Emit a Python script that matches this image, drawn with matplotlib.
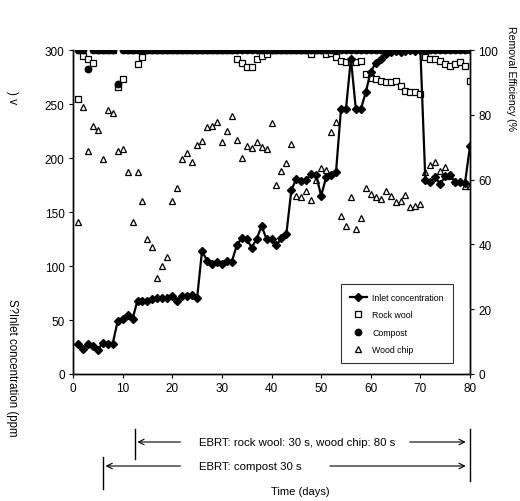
import matplotlib
matplotlib.use("Agg")
import matplotlib.pyplot as plt
from matplotlib.lines import Line2D
from matplotlib.transforms import blended_transform_factory

plt.rcParams['font.family'] = ['Liberation Sans', 'DejaVu Sans']

days = list(range(1, 81))

# H2S inlet concentration (ppm v)
inlet = [28, 23, 28, 26, 22, 29, 28, 28, 49, 51,
         55, 51, 68, 68, 68, 69, 70, 70, 70, 72,
         68, 72, 72, 73, 70, 114, 105, 102, 104, 102,
         105, 104, 119, 126, 125, 117, 125, 137, 125, 125,
         119, 126, 130, 170, 181, 179, 180, 185, 184, 165,
         182, 184, 187, 245, 245, 292, 245, 245, 261, 280,
         288, 292, 296, 298, 299, 298, 299, 300, 299, 300,
         180, 178, 182, 176, 183, 184, 178, 178, 177, 211]

# removal efficiency (%)
rock_wool = [85, 98.2, 97.2, 96, 100, 100, 100, 100, 88.5, 91,
             100, 100, 95.7, 97.7, 100, 100, 100, 100, 100, 100,
             100, 100, 100, 100, 100, 100, 100, 100, 100, 100,
             100, 100, 97.2, 96, 94.7, 94.7, 97.2, 98.2, 98.8, 100,
             100, 100, 100, 100, 100, 100, 100, 98.8, 100, 100,
             98.8, 99, 97.7, 96.7, 96.2, 96.2, 96.4, 96.7, 92.6, 91.5,
             91, 90.5, 90, 90, 90.5, 89, 87.4, 87, 87, 86.4,
             97.7, 97.2, 97.2, 96.7, 95.7, 95.2, 95.7, 96.2, 95.2, 90.5]

compost = [100, 100, 94.1, 100, 100, 100, 100, 100, 89.5, 100] + [100] * 70

wood_chip = [47, 82.3, 68.9, 76.5, 75.4, 66.5, 81.5, 80.5, 68.9, 69.4,
             62.3, 47, 62.3, 53.3, 41.8, 39.2, 29.5, 33.2, 36, 53.3,
             57.4, 66.5, 68.1, 65.5, 70.8, 72, 76.1, 76.4, 77.7, 71.7,
             75.1, 79.7, 72.3, 66.7, 70.5, 69.7, 71.7, 70, 69.4, 77.5,
             58.3, 62.8, 65, 71, 55, 54.5, 56.6, 53.8, 60, 63.6,
             63, 74.6, 77.7, 48.7, 45.8, 54.5, 44.8, 48, 57.3, 55.6,
             54.5, 54, 56.6, 55, 53, 53.5, 55.2, 51.4, 51.7, 52.5,
             62.4, 64.5, 65.3, 62.8, 63.8, 61.2, 59.7, 59.7, 58.1, 58.1]

# EBRT periods (days)
rw_start = 12.4
compost_start = 6
period_end = 80

fig = plt.figure(figsize=(5.2, 5.02), dpi=100)
ax = fig.add_axes([73 / 520, 127 / 502, 397 / 520, 324 / 502])
ax2 = ax.twinx()

l_in, = ax.plot(days, inlet, color='black', lw=1.6, marker='D', ms=4.2,
                mfc='black', mec='black', zorder=3)
l_rw, = ax2.plot(days, rock_wool, ls='none', marker='s', ms=4.5,
                 mfc='white', mec='black', mew=0.9)
l_cp, = ax2.plot(days, compost, ls='none', marker='o', ms=4.6,
                 mfc='black', mec='black')
l_wc, = ax2.plot(days, wood_chip, ls='none', marker='^', ms=4.5,
                 mfc='white', mec='black', mew=0.9)

ax.set_xlim(0, 80)
ax.set_ylim(0, 300)
ax2.set_ylim(0, 100)
ax.set_xticks(range(0, 81, 10))
ax.set_yticks(range(0, 301, 50))
ax2.set_yticks(range(0, 101, 20))
for a in (ax, ax2):
    a.spines['top'].set_visible(False)
    a.tick_params(direction='out', length=3, width=0.8, labelsize=8.5, pad=3)
    for s in a.spines.values():
        s.set_linewidth(1)

ax.set_zorder(ax2.get_zorder() + 1)
ax.patch.set_visible(False)

leg = ax.legend([l_in, l_rw, l_cp, l_wc],
                ['Inlet concentration', 'Rock wool', 'Compost', 'Wood chip'],
                loc='lower left', bbox_to_anchor=(0.675, 0.035), fontsize=6.3,
                frameon=True, fancybox=False, edgecolor='black',
                handlelength=2.0, handletextpad=0.6, borderpad=1.0,
                labelspacing=0.95, borderaxespad=0)
leg.get_frame().set_linewidth(0.8)

# axis labels placed as in the original
fig.text(12 / 520, 1 - 368 / 502, 'S?Inlet concentration (ppm', rotation=270,
         ha='center', va='center', fontsize=8.3)
fig.text(12 / 520, 1 - 98 / 502, ') v', rotation=270,
         ha='center', va='center', fontsize=8.5)
fig.text(511 / 520, 1 - 78 / 502, 'Removal Efficiency (%', rotation=270,
         ha='center', va='center', fontsize=7.6)
fig.text(300 / 520, 1 - 492 / 502, 'Time (days)', ha='center', va='center',
         fontsize=8)

# EBRT arrows below the axis
tr = blended_transform_factory(ax.transData, fig.transFigure)


def fy(py):
    return 1 - py / 502


y1 = fy(443)
y2 = fy(467)
ax.annotate('', xy=(rw_start, y1), xytext=(22.2, y1), xycoords=tr,
            textcoords=tr, arrowprops=dict(arrowstyle='->', lw=0.8))
ax.annotate('', xy=(period_end - 0.3, y1), xytext=(67.3, y1), xycoords=tr,
            textcoords=tr, arrowprops=dict(arrowstyle='->', lw=0.8))
ax.annotate('', xy=(compost_start, y2), xytext=(22.2, y2), xycoords=tr,
            textcoords=tr, arrowprops=dict(arrowstyle='->', lw=0.8))
ax.annotate('', xy=(period_end - 0.3, y2), xytext=(51.2, y2), xycoords=tr,
            textcoords=tr, arrowprops=dict(arrowstyle='->', lw=0.8))
ax.text(25.4, y1, 'EBRT: rock wool: 30 s, wood chip: 80 s', transform=tr,
        ha='left', va='center', fontsize=8.2)
ax.text(25.4, y2, 'EBRT: compost 30 s', transform=tr,
        ha='left', va='center', fontsize=8.2)

for x, ya, yb in [(rw_start, 430, 460), (compost_start, 458, 490),
                  (period_end, 430, 482)]:
    fig.add_artist(Line2D([x, x], [fy(ya), fy(yb)], transform=tr,
                          color='black', lw=1))

fig.savefig('out.png', dpi=100)
